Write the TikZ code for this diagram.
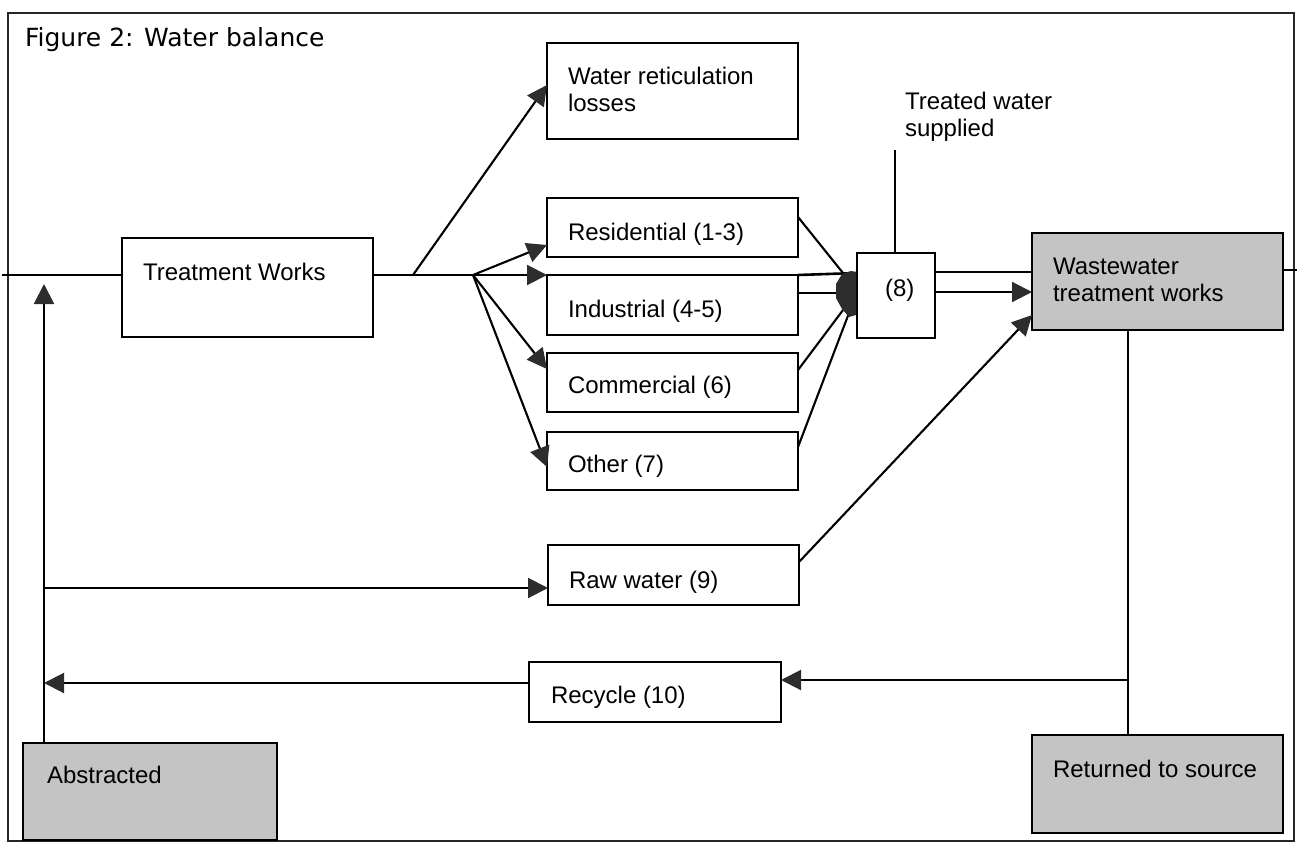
\documentclass[tikz,border=0pt]{standalone}
\usepackage{fontspec}
\setmainfont{Liberation Sans}
\newfontfamily\titlefont{DejaVu Sans}
\usetikzlibrary{arrows.meta,calc}
\definecolor{boxgray}{RGB}{196,196,196}
\definecolor{inkgray}{RGB}{45,45,45}
\begin{document}
\begin{tikzpicture}[x=1pt,y=-1pt,
  every node/.style={inner sep=0pt,outer sep=0pt},
  plainbox/.style={draw=black,line width=2.3pt,fill=white},
  shadebox/.style={plainbox,fill=boxgray},
  size/.style 2 args={minimum width=#1,minimum height=#2},
  lbl/.style={anchor=base west,font=\fontsize{24}{27}\selectfont},
  lbltwo/.style={anchor=north west,align=left,font=\fontsize{24}{27}\selectfont},
  flow/.style={line width=2.1pt,line cap=butt},
  arrow/.style={flow,-{Triangle[length=20pt,width=20pt,color=inkgray]}}
]
\useasboundingbox (0,0) rectangle (1297,843);

% outer frame
\draw[line width=1.6pt,black!85] (8,13) rectangle (1294,841);

% boxes
\node[plainbox,size={251pt}{99pt}] (tw)  at (247.5,287.5) {};
\node[plainbox,size={251pt}{96pt}] (ret) at (672.5,91) {};
\node[plainbox,size={251pt}{59pt}] (res) at (672.5,227.5) {};
\node[plainbox,size={251pt}{60pt}] (ind) at (672.5,305) {};
\node[plainbox,size={251pt}{59pt}] (com) at (672.5,382.5) {};
\node[plainbox,size={251pt}{58pt}] (oth) at (672.5,461) {};
\node[plainbox,size={78pt}{85pt}]  (eight) at (896,295.5) {};
\node[shadebox,size={251pt}{97pt}] (wwtw) at (1157.5,281.5) {};
\node[plainbox,size={251pt}{60pt}] (raw) at (673.5,575) {};
\node[plainbox,size={252pt}{60pt}] (rec) at (655,692) {};
\node[shadebox,size={254pt}{97pt}] (abs) at (150,791.5) {};
\node[shadebox,size={251pt}{98pt}] (src) at (1157.5,784) {};

% junction points
\coordinate (lin)  at (2,275);
\coordinate (b1)   at (413,275);
\coordinate (b2)   at (473,275);
\coordinate (j1)   at (843,273);
\coordinate (j2)   at (840,293);
\coordinate (j3)   at (843,310);
\coordinate (j4)   at (849,313);
\coordinate (sup)  at (895,150);
\coordinate (rout) at (1297,270);
\coordinate (lxtop) at (44,284);
\coordinate (lxraw) at (44,588);
\coordinate (lxrec) at (44,683);
\coordinate (rx)    at (1128,680);
\coordinate (e1) at ($(eight.north east)+(0,19)$);
\coordinate (e2) at ($(eight.north east)+(0,39)$);

% supply main
\draw[flow] (lin) -- (tw.west |- lin);
\draw[flow,line width=2.8pt] (tw.east |- lin) -- (b2);
\draw[arrow] (b2) -- (ind.north west);
\draw[flow,line width=2.6pt] (ind.north east) -- (eight.west |- j1);
\draw[arrow] (b1) -- ($(ret.north west)+(0,42)$);
\draw[arrow] (b2) -- ($(res.north west)+(0,47)$);
\draw[arrow] (b2) -- ($(com.north west)+(0,16)$);
\draw[arrow] (b2) -- ($(oth.north west)+(0,35)$);

% users to (8)
\draw[flow] ($(res.north east)+(0,19)$) -- (j1);
\draw[flow] ($(ind.north east)+(0,18)$) -- (j2);
\draw[flow] ($(com.north east)+(0,17)$) -- (j3);
\draw[flow] ($(oth.north east)+(0,15)$) -- (j4);
\fill[inkgray] (842,274) -- (851,271) -- (856,272) -- (856,315) -- (849,317)
  -- (842,309) -- (836,298) -- (836,284) -- cycle;

% (8) onwards
\draw[flow] (sup) -- (eight.north -| sup);
\draw[flow] (e1) -- (wwtw.west |- e1);
\draw[arrow] (e2) -- (wwtw.west |- e2);
\draw[flow] (wwtw.east |- rout) -- (rout);
\draw[arrow] ($(raw.north east)+(0,17)$) -- ($(wwtw.south west)+(0,-15)$);

% abstraction, raw water and recycle loop
\draw[arrow] (abs.north -| lxtop) -- (lxtop);
\draw[arrow] (lxraw) -- (raw.west |- lxraw);
\draw[flow] (wwtw.south -| rx) -- (src.north -| rx);
\draw[arrow] (rx) -- (rec.east |- rx);
\draw[arrow] (rec.west |- lxrec) -- (lxrec);

% labels
\node[anchor=base west,font=\titlefont\fontsize{25}{28}\selectfont] (title) at (25,47) {Figure 2: Water balance};
\node[lbl] (twl) at (143,280) {Treatment Works};
\node[lbltwo] (retl) at (568,67.5) {Water reticulation\\losses};
\node[lbltwo] (supl) at (905,92.5) {Treated water\\supplied};
\node[lbl] (resl) at (568,240) {Residential (1-3)};
\node[lbl] (indl) at (568,317) {Industrial (4-5)};
\node[lbl] (coml) at (568,393) {Commercial (6)};
\node[lbl] (othl) at (568,472) {Other (7)};
\node[lbl] (eightl) at (885,296) {(8)};
\node[lbltwo] (wwtwl) at (1053,257.5) {Wastewater\\treatment works};
\node[lbl] (rawl) at (569,588) {Raw water (9)};
\node[lbl] (recl) at (551,703) {Recycle (10)};
\node[lbl] (absl) at (47,783) {Abstracted};
\node[lbl] (srcl) at (1053,777) {Returned to source};
\end{tikzpicture}
\end{document}
